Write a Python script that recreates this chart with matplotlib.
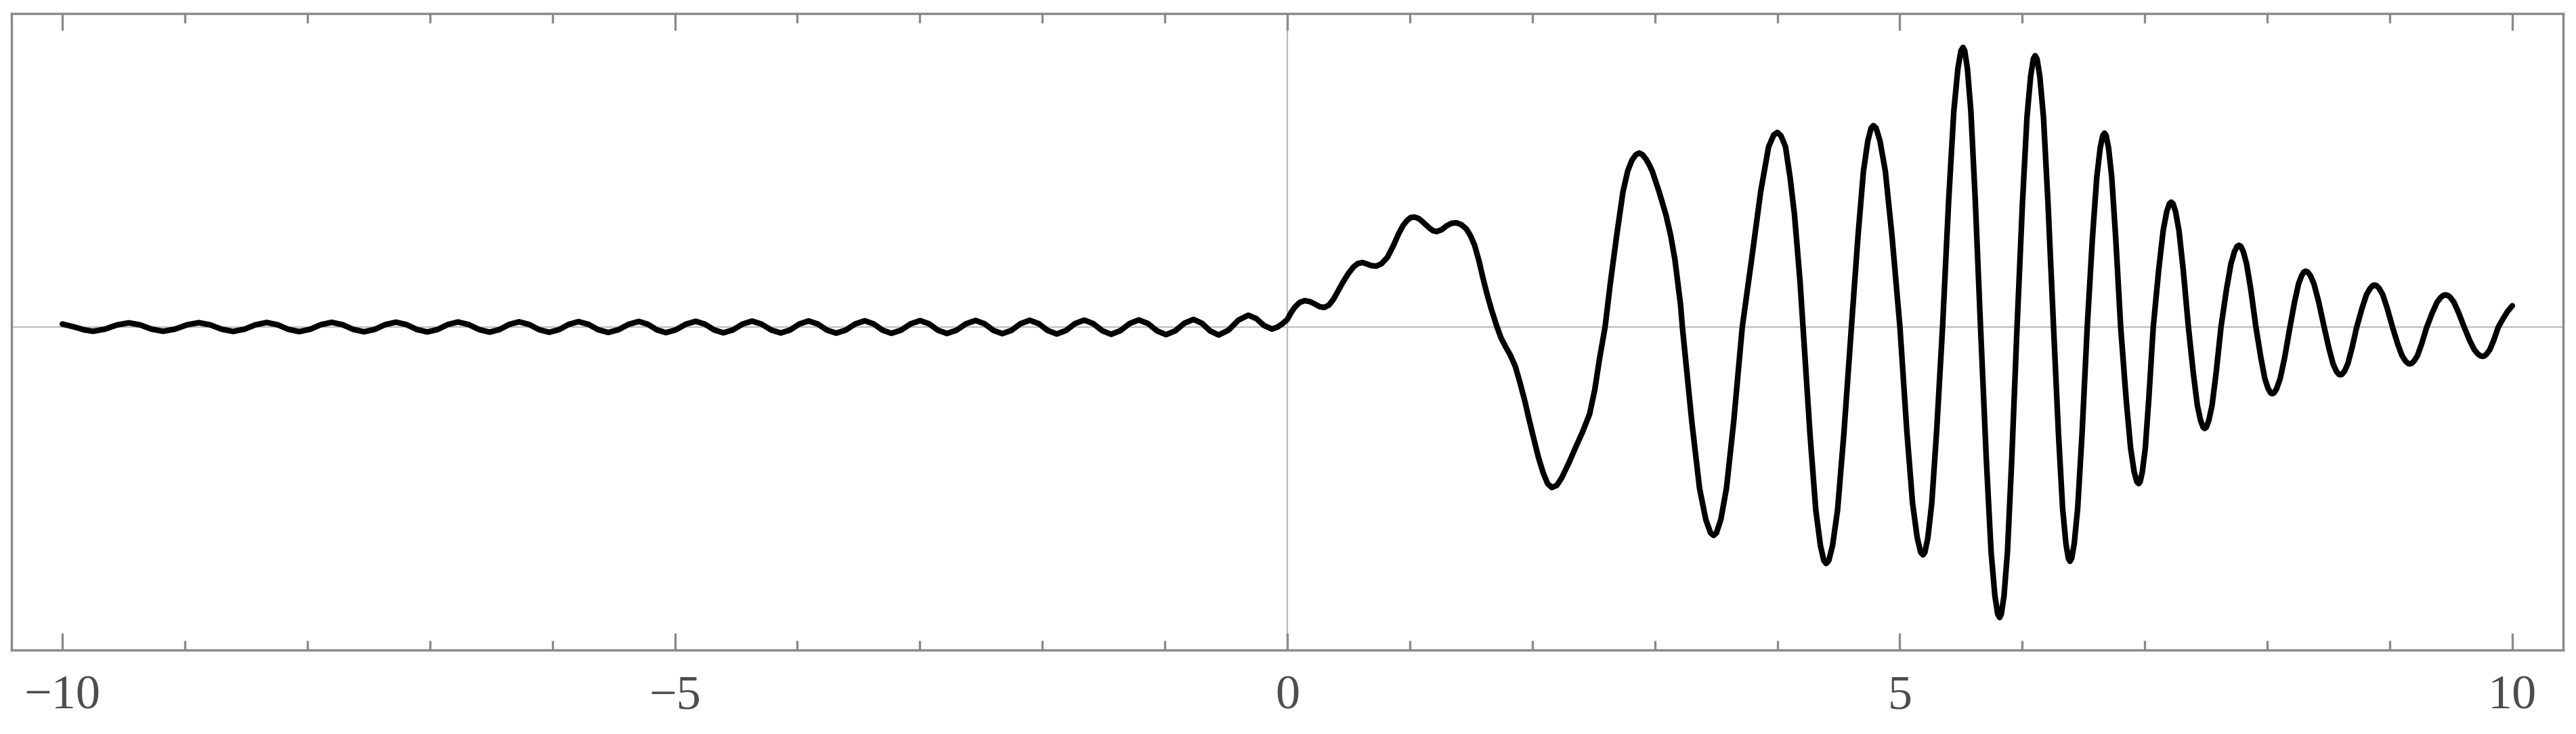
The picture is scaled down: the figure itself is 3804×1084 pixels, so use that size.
import numpy as np
import matplotlib.pyplot as plt
from matplotlib.ticker import MultipleLocator

# small wiggles for x < 0 (extremum, then two points on the way down/up)
wiggle_x = [
    -10.0, -9.90, -9.82,    -9.749, -9.652, -9.554,   -9.457, -9.364, -9.271,
    -9.178, -9.081, -8.983,  -8.886, -8.793, -8.699,   -8.606, -8.514, -8.423,
    -8.331, -8.243, -8.155,  -8.067, -7.978, -7.890,   -7.801, -7.713, -7.625,
    -7.537, -7.450, -7.364,  -7.277, -7.191, -7.106,   -7.020, -6.937, -6.853,
    -6.770, -6.684, -6.598,  -6.512, -6.432, -6.352,   -6.272, -6.190, -6.108,
    -6.026, -5.946, -5.866,  -5.786, -5.705, -5.625,   -5.544, -5.461, -5.377,
    -5.294, -5.220, -5.147,  -5.073, -4.992, -4.910,   -4.829, -4.754, -4.679,
    -4.604, -4.526, -4.448,  -4.370, -4.292, -4.213,   -4.135, -4.059, -3.984,
    -3.908, -3.833, -3.758,  -3.683, -3.605, -3.527,   -3.449, -3.377, -3.304,
    -3.232, -3.154, -3.075,  -2.997, -2.924, -2.852,   -2.779, -2.701, -2.623,
    -2.545, -2.472, -2.400,  -2.327, -2.252, -2.178,   -2.103, -2.029, -1.956,
    -1.882, -1.807, -1.733,  -1.658, -1.585, -1.511,   -1.438, -1.363, -1.287,
    -1.212, -1.138, -1.064,  -0.990, -0.915, -0.841,   -0.766, -0.697, -0.629,
    -0.560, -0.480, -0.399,  -0.319, -0.254, -0.190,   -0.125, -0.080, -0.040,
]
wiggle_y = [
    0.018, 0.0, -0.017,      -0.025, -0.0125, 0.0125,  0.025, 0.0125, -0.0125,
    -0.025, -0.0125, 0.013,  0.026, 0.013, -0.013,     -0.026, -0.013, 0.0135,
    0.027, 0.0135, -0.0135,  -0.027, -0.0135, 0.014,   0.028, 0.014, -0.014,
    -0.028, -0.014, 0.0145,  0.029, 0.0145, -0.0145,   -0.029, -0.0145, 0.015,
    0.030, 0.015, -0.015,    -0.030, -0.015, 0.0155,   0.031, 0.0155, -0.0155,
    -0.031, -0.0155, 0.016,  0.032, 0.016, -0.016,     -0.032, -0.016, 0.0165,
    0.033, 0.0165, -0.0165,  -0.033, -0.0165, 0.017,   0.034, 0.017, -0.017,
    -0.034, -0.017, 0.0175,  0.035, 0.0175, -0.0175,   -0.035, -0.0175, 0.018,
    0.036, 0.018, -0.018,    -0.036, -0.018, 0.0185,   0.037, 0.0185, -0.0185,
    -0.037, -0.0185, 0.019,  0.038, 0.019, -0.019,     -0.038, -0.019, 0.0195,
    0.039, 0.0195, -0.0195,  -0.039, -0.0195, 0.020,   0.040, 0.020, -0.0205,
    -0.041, -0.0205, 0.0205, 0.041, 0.0205, -0.0215,   -0.043, -0.0215, 0.021,
    0.042, 0.021, -0.0225,   -0.045, -0.0225, 0.0225,  0.045, 0.0225, -0.0235,
    -0.047, -0.018, 0.041,   0.070, 0.050, 0.009,      -0.012, 0.000, 0.020,
]

# stepped bump between 0 and the first big swing
bump_x = [0.0, 0.030, 0.062, 0.100, 0.142, 0.185, 0.225, 0.265, 0.302, 0.340,
          0.375, 0.406, 0.450, 0.497, 0.540, 0.575, 0.612, 0.645, 0.685, 0.727,
          0.770, 0.818, 0.865, 0.910, 0.945, 0.978, 1.005, 1.036, 1.070, 1.100,
          1.128, 1.160, 1.190, 1.219, 1.260, 1.300, 1.340, 1.380, 1.420, 1.460,
          1.495, 1.529, 1.565, 1.598, 1.632, 1.666, 1.712, 1.745, 1.781, 1.820,
          1.861, 1.900, 1.941, 1.975, 2.010, 2.050, 2.090, 2.125, 2.159, 2.200,
          2.239, 2.300, 2.354, 2.410, 2.468, 2.510, 2.548]
bump_y = [0.045, 0.085, 0.118, 0.145, 0.156, 0.150, 0.136, 0.120, 0.116, 0.130,
          0.162, 0.202, 0.260, 0.315, 0.355, 0.375, 0.381, 0.374, 0.363, 0.360,
          0.375, 0.413, 0.480, 0.553, 0.600, 0.630, 0.646, 0.650, 0.642, 0.625,
          0.606, 0.585, 0.569, 0.564, 0.575, 0.598, 0.613, 0.616, 0.605, 0.581,
          0.540, 0.483, 0.390, 0.287, 0.190, 0.104, 0.0, -0.065, -0.115, -0.165,
          -0.232, -0.330, -0.443, -0.550, -0.654, -0.770, -0.864, -0.925, -0.948, -0.935,
          -0.892, -0.800, -0.710, -0.620, -0.513, -0.370, -0.190]

# large oscillations, one row per lobe (zero, flank, extremum, flank, zero)
burst_x = [
    2.594, 2.638, 2.687, 2.740, 2.780, 2.813, 2.845, 2.873, 2.900, 2.930, 2.955, 2.980,
    3.035, 3.090, 3.130, 3.164, 3.190, 3.210, 3.225,
    3.302, 3.365, 3.416, 3.455, 3.480, 3.503, 3.539, 3.585, 3.644, 3.714,
    3.790, 3.864, 3.929, 3.971, 4.000, 4.030, 4.067, 4.105, 4.140, 4.186, 4.210,
    4.267, 4.314, 4.352, 4.380, 4.399, 4.420, 4.451, 4.492, 4.543, 4.605,
    4.659, 4.703, 4.739, 4.766, 4.784, 4.806, 4.838, 4.882, 4.936, 5.001,
    5.057, 5.104, 5.142, 5.170, 5.189, 5.205, 5.229, 5.261, 5.301, 5.349,
    5.399, 5.441, 5.474, 5.499, 5.516, 5.530, 5.552, 5.580, 5.616, 5.659,
    5.706, 5.745, 5.776, 5.799, 5.815, 5.829, 5.851, 5.879, 5.914, 5.957,
    6.001, 6.038, 6.068, 6.090, 6.105, 6.120, 6.143, 6.173, 6.210, 6.255,
    6.295, 6.329, 6.356, 6.376, 6.389, 6.403, 6.424, 6.452, 6.488, 6.530,
    6.572, 6.608, 6.636, 6.657, 6.671, 6.684, 6.704, 6.730, 6.763, 6.803,
    6.847, 6.884, 6.913, 6.935, 6.950, 6.962, 6.980, 7.004, 7.033, 7.069,
    7.113, 7.150, 7.179, 7.201, 7.216, 7.230, 7.251, 7.279, 7.314, 7.356,
    7.396, 7.429, 7.456, 7.476, 7.489, 7.502, 7.522, 7.549, 7.582, 7.622,
    7.666, 7.703, 7.732, 7.754, 7.769, 7.783, 7.804, 7.831, 7.866, 7.907,
    7.947, 7.980, 8.007, 8.027, 8.040, 8.055, 8.076, 8.105, 8.142, 8.185,
    8.223, 8.255, 8.281, 8.300, 8.313, 8.328, 8.351, 8.381, 8.419, 8.464,
    8.504, 8.537, 8.564, 8.584, 8.597, 8.610, 8.630, 8.657, 8.690, 8.730,
    8.774, 8.810, 8.840, 8.861, 8.876, 8.891, 8.913, 8.942, 8.978, 9.022,
    9.064, 9.100, 9.128, 9.149, 9.163, 9.177, 9.198, 9.226, 9.260, 9.302,
    9.348, 9.386, 9.417, 9.440, 9.455, 9.470, 9.493, 9.523, 9.561, 9.607,
    9.652, 9.690, 9.720, 9.743, 9.758, 9.771, 9.790, 9.816, 9.848, 9.886,
    9.925, 9.962, 10.0,
]
burst_y = [
    0.0, 0.265, 0.532, 0.799, 0.925, 0.985, 1.018, 1.028, 1.018, 0.990, 0.958, 0.919,
    0.799, 0.665, 0.540, 0.399, 0.250, 0.132, 0.0,
    -0.559, -0.952, -1.137, -1.216, -1.231, -1.216, -1.137, -0.952, -0.559, 0.0,
    0.399, 0.799, 1.065, 1.135, 1.150, 1.130, 1.065, 0.880, 0.665, 0.265, 0.0,
    -0.634, -1.080, -1.291, -1.380, -1.397, -1.380, -1.291, -1.080, -0.634, 0.0,
    0.540, 0.920, 1.100, 1.176, 1.190, 1.176, 1.100, 0.920, 0.540, 0.0,
    -0.611, -1.040, -1.244, -1.330, -1.346, -1.330, -1.244, -1.040, -0.611, 0.0,
    0.750, 1.277, 1.526, 1.632, 1.652, 1.632, 1.526, 1.277, 0.750, 0.0,
    -0.779, -1.326, -1.586, -1.695, -1.716, -1.695, -1.586, -1.326, -0.779, 0.0,
    0.728, 1.239, 1.481, 1.584, 1.603, 1.584, 1.481, 1.239, 0.728, 0.0,
    -0.628, -1.070, -1.279, -1.367, -1.384, -1.367, -1.279, -1.070, -0.628, 0.0,
    0.520, 0.886, 1.059, 1.132, 1.146, 1.132, 1.059, 0.886, 0.520, 0.0,
    -0.420, -0.715, -0.855, -0.914, -0.925, -0.914, -0.855, -0.715, -0.420, 0.0,
    0.335, 0.570, 0.682, 0.729, 0.738, 0.729, 0.682, 0.570, 0.335, 0.0,
    -0.272, -0.463, -0.553, -0.592, -0.599, -0.592, -0.553, -0.463, -0.272, 0.0,
    0.219, 0.373, 0.446, 0.477, 0.483, 0.477, 0.446, 0.373, 0.219, 0.0,
    -0.179, -0.305, -0.364, -0.389, -0.394, -0.389, -0.364, -0.305, -0.179, 0.0,
    0.150, 0.255, 0.305, 0.326, 0.330, 0.326, 0.305, 0.255, 0.150, 0.0,
    -0.128, -0.218, -0.261, -0.279, -0.282, -0.279, -0.261, -0.218, -0.128, 0.0,
    0.113, 0.192, 0.229, 0.245, 0.248, 0.245, 0.229, 0.192, 0.113, 0.0,
    -0.099, -0.169, -0.201, -0.215, -0.218, -0.215, -0.201, -0.169, -0.099, 0.0,
    0.086, 0.147, 0.176, 0.188, 0.190, 0.188, 0.176, 0.147, 0.086, 0.0,
    -0.079, -0.134, -0.160, -0.171, -0.173, -0.171, -0.160, -0.134, -0.079, 0.0,
    0.050, 0.093, 0.126,
]

tick_values = [-10, -5, 0, 5, 10]

frame_gray = '#8a8a8a'
axis_gray = '#bdbdbd'
label_gray = '#4d4d4d'

x = np.concatenate([wiggle_x, bump_x, burst_x])
y = np.concatenate([wiggle_y, bump_y, burst_y])

fig = plt.figure(figsize=(38.04, 10.84), dpi=100)
ax = fig.add_axes([17 / 3804, 1 - 960 / 1084, (3785 - 17) / 3804, (960 - 20) / 1084])

ax.axhline(0, color=axis_gray, lw=1.6, zorder=1)
ax.axvline(0, color=axis_gray, lw=1.6, zorder=1)
ax.plot(x, y, color='black', lw=6, solid_joinstyle='round', solid_capstyle='round', zorder=3)

ax.set_xlim(-10.415, 10.415)
ax.set_ylim(-1.908, 1.852)

ax.set_xticks(tick_values)
ax.set_xticklabels([f'{v}'.replace('-', '\u2212') for v in tick_values],
                   family='Liberation Serif', fontsize=52, color=label_gray)
ax.xaxis.set_minor_locator(MultipleLocator(1))
ax.set_yticks([])
ax.tick_params(axis='x', which='both', direction='in', top=True, bottom=True,
               color=frame_gray, width=2.4, pad=26)
ax.tick_params(axis='x', which='major', length=18)
ax.tick_params(axis='x', which='minor', length=10)

for side in ax.spines.values():
    side.set_color(frame_gray)
    side.set_linewidth(2.5)

fig.savefig('out.png', dpi=100, facecolor='white')
